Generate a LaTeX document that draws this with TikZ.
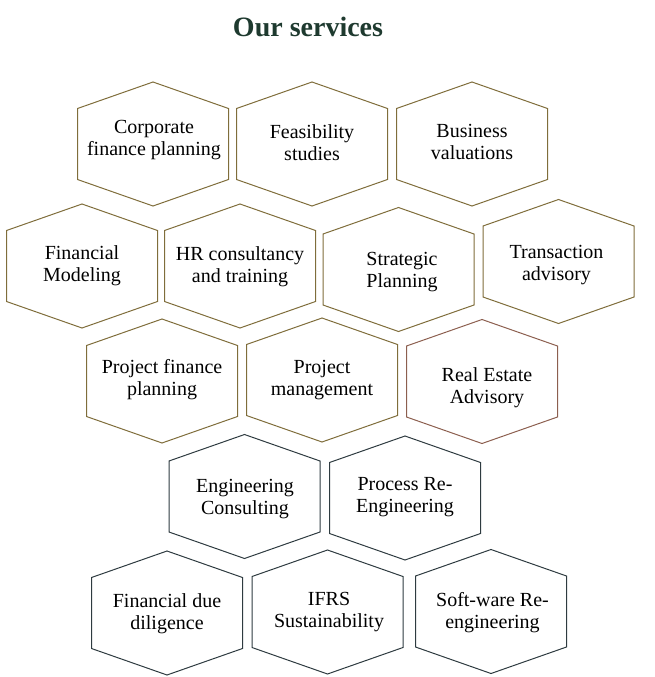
\documentclass[tikz,border=0pt]{standalone}
\usepackage{fontspec}
\setmainfont{Liberation Serif}
\definecolor{gold}{HTML}{7F6D3B}
\definecolor{rose}{HTML}{8C5F4F}
\definecolor{slate}{HTML}{2E3B40}
\definecolor{titlegreen}{HTML}{1E3A2F}
\tikzset{
  hextext/.style={align=center,font=\fontsize{20}{22}\selectfont,text=black,inner sep=0pt},
  hexline/.style={line width=1pt,line join=miter},
}
% name, cx, cy, colour, text dx, text dy, text
\newcommand\hexagonnode[7]{%
  \coordinate (#1c) at (#2,#3);
  \node[hextext] (#1) at ($(#1c)+(#5,#6)$) {#7};
  \draw[hexline,#4] (#1c) ++(0,-62) -- ++(75.5,26.5) -- ++(0,71) -- ++(-75.5,26.5)
    -- ++(-75.5,-26.5) -- ++(0,-71) -- cycle;
}
\usetikzlibrary{calc}
\begin{document}
\begin{tikzpicture}[x=1pt,y=-1pt]
\useasboundingbox (0,0) rectangle (654,677);
\node[font=\fontsize{28}{32}\selectfont\bfseries,text=titlegreen,anchor=base] (title) at (308,37) {Our services};
% row 1
\hexagonnode{h1}{153}{144}{gold}{1}{-4}{Corporate\\finance planning}
\hexagonnode{h2}{312}{144}{gold}{0}{-1}{Feasibility\\studies}
\hexagonnode{h3}{472}{144}{gold}{0}{-2}{Business\\valuations}
% row 2
\hexagonnode{h4}{82}{266}{gold}{0}{0}{Financial\\Modeling}
\hexagonnode{h5}{240}{266}{gold}{0}{1}{HR consultancy\\and training}
\hexagonnode{h6}{398.5}{269.5}{gold}{3.5}{2.5}{Strategic\\Planning}
\hexagonnode{h7}{558.5}{261.5}{gold}{-2}{4}{Transaction\\advisory}
% row 3
\hexagonnode{h8}{162}{381}{gold}{0}{-1}{Project finance\\planning}
\hexagonnode{h9}{322}{380}{gold}{0}{0}{Project\\management}
\hexagonnode{h10}{482}{381.5}{rose}{5}{6.5}{Real Estate\\Advisory}
% row 4
\hexagonnode{h11}{244.5}{496.5}{slate}{0.5}{2.5}{Engineering\\Consulting}
\hexagonnode{h12}{405}{498}{slate}{0}{-1}{Process Re-\\Engineering}
% row 5
\hexagonnode{h13}{167}{613}{slate}{0}{1}{Financial due\\diligence}
\hexagonnode{h14}{327.5}{612}{slate}{1.5}{0.5}{IFRS\\Sustainability}
\hexagonnode{h15}{491}{611.5}{slate}{1.5}{1.5}{Soft-ware Re-\\engineering}
\end{tikzpicture}
\end{document}
